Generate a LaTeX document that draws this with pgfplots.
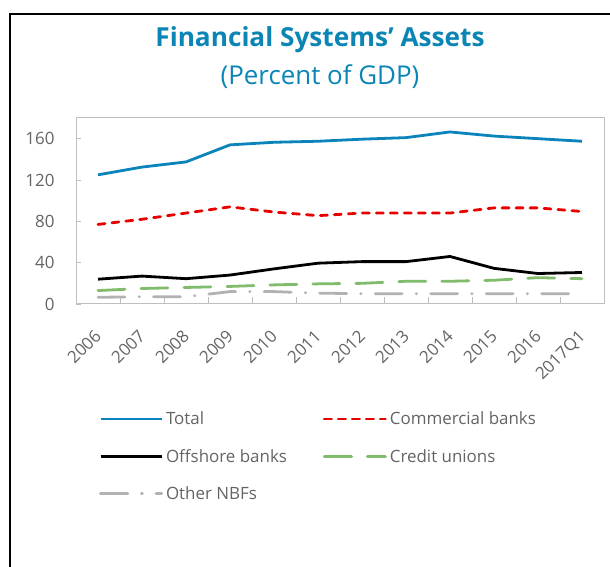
\documentclass[border=0pt]{standalone}
\usepackage{pgfplots}
\pgfplotsset{compat=1.18}
\usepackage{fontspec}
\setmainfont{Open Sans}
\definecolor{titleblue}{RGB}{10,133,180}
\definecolor{totalblue}{RGB}{10,132,186}
\definecolor{cbred}{RGB}{230,0,0}
\definecolor{cugreen}{RGB}{128,188,108}
\definecolor{nbfgray}{RGB}{178,178,178}
\definecolor{txtgray}{RGB}{100,100,100}
\definecolor{axgray}{RGB}{191,191,191}
\pgfplotsset{nbflegend/.style={legend image code/.code={\path (0bp,0bp) -- (61bp,0bp);\draw[##1] (0bp,0bp) -- (50bp,0bp);}}}
\pgfplotstableread{
x total cb off cu nbf
0 125 77 24 13 6.5
1 132.5 82 27 15 7
2 137.5 88 24.5 16 7
3 154 94 28 17 12
4 156.5 89 34 18.5 12
5 157.5 85.5 39.5 19.5 10.5
6 159.5 88 41 20 10
7 161 88 41 22 10
8 166.5 88 46 22 10
9 162.5 93 34.5 23 10
10 160 93 29.5 25.5 10
11 157.5 89.5 30.5 24.5 10
}\datatable
\begin{document}
\begin{tikzpicture}
\path[use as bounding box] (0,0) rectangle (610bp,567bp);
\draw[line width=1.5bp] (10bp,0) -- (10bp,553bp) -- (610bp,553bp);
\node[font=\bfseries\fontsize{26.3}{30}\selectfont, text=titleblue, anchor=base] at (320bp,520bp) {Financial Systems’ Assets};
\node[font=\fontsize{26}{30}\selectfont, text=titleblue, anchor=base] at (320bp,482bp) {(Percent of GDP)};
\begin{axis}[
  at={(76bp,263bp)}, anchor=south west,
  scale only axis, width=528bp, height=186bp,
  xmin=-0.5, xmax=11.5, ymin=0, ymax=180,
  ytick={0,40,80,120,160},
  xtick={0,...,11},
  xticklabels={2006,2007,2008,2009,2010,2011,2012,2013,2014,2015,2016,2017Q1},
  major x tick style={draw=none},
  minor xtick={0.5,1.5,...,10.5},
  minor tick length=7bp,
  major tick length=5bp,
  minor x tick style={axgray, line width=0.8bp},
  ytick style={axgray, line width=0.8bp},
  x tick label style={yshift=-29bp, rotate=45, anchor=east, inner sep=0pt, text height=12bp, text depth=0bp},
  y tick label style={xshift=-18bp},
  tick label style={font=\fontsize{17}{20}\selectfont, text=txtgray},
  /pgf/number format/assume math mode=true,
  axis line style={axgray, line width=1bp},
  tick align=inside,
  xtick pos=bottom, ytick pos=left,
  legend columns=2,
  legend style={at={(0.0436,-0.562)}, anchor=north west, draw=none, fill=none,
    inner sep=0pt, nodes={inner sep=3bp},
    font=\fontsize{17}{20}\selectfont, text=txtgray,
    /tikz/every even column/.append style={column sep=33bp},
    row sep=17bp},
  legend cell align=left,
  legend image code/.code={\path (0bp,0bp) -- (61bp,0bp);\draw[#1] (0bp,0bp) -- (58bp,0bp);},
  line join=round,
]
\addplot[totalblue, line width=2.8bp] table[x=x,y=total]{\datatable};
\addlegendentry{Total}
\addplot[cbred, line width=2.8bp, line cap=round, dash pattern=on 7bp off 7bp] table[x=x,y=cb]{\datatable};
\addlegendentry{Commercial banks}
\addplot[black, line width=2.8bp] table[x=x,y=off]{\datatable};
\addlegendentry{Offshore banks}
\addplot[cugreen, line width=2.8bp, line cap=round, dash pattern=on 27bp off 16bp] table[x=x,y=cu]{\datatable};
\addlegendentry{Credit unions}
\addplot[nbfgray, line width=2.8bp, line cap=round, dash pattern=on 27bp off 14bp on 0.5bp off 14bp, nbflegend] table[x=x,y=nbf]{\datatable};
\addlegendentry{Other NBFs}
\end{axis}
\end{tikzpicture}
\end{document}
